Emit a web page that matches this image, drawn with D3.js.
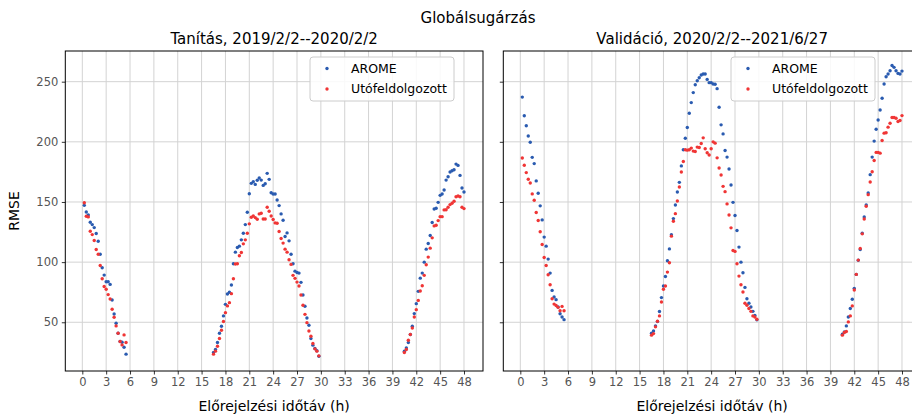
<!DOCTYPE html>
<html><head><meta charset="utf-8">
<script src="https://cdn.jsdelivr.net/npm/d3@7/dist/d3.min.js"></script>
<style>
body{margin:0;background:#fff;overflow:hidden;}
text{font-family:"DejaVu Sans",sans-serif;}
</style>
</head><body>
<svg id="chart" width="912" height="414"></svg>
<script>
// ---------------- DATA ----------------
const seriesNames = ["AROME", "Utófeldolgozott"];
const suptitle = "Globálsugárzás";
const panelTitles = ["Tanítás, 2019/2/2--2020/2/2", "Validáció, 2020/2/2--2021/6/27"];
const xLabel = "Előrejelzési időtáv (h)";
const yLabel = "RMSE";
const xTickValues = [0, 3, 6, 9, 12, 15, 18, 21, 24, 27, 30, 33, 36, 39, 42, 45, 48];
const yTickValues = [50, 100, 150, 200, 250];

const hoursA = [0.25,0.5,0.75,1,1.25,1.5,1.75,2,2.25,2.5,2.75,3,3.25,3.5,3.75,4,4.25,4.5,4.75,5,5.25,5.5];
const hoursB = [16.5,16.75,17,17.25,17.5,17.75,18,18.25,18.5,18.75,19,19.25,19.5,19.75,20,20.25,20.5,20.75,21,21.25,21.5,21.75,22,22.25,22.5,22.75,23,23.25,23.5,23.75,24,24.25,24.5,24.75,25,25.25,25.5,25.75,26,26.25,26.5,26.75,27,27.25,27.5,27.75,28,28.25,28.5,28.75,29,29.25,29.5,29.75];
const hoursC = [40.5,40.75,41,41.25,41.5,41.75,42,42.25,42.5,42.75,43,43.25,43.5,43.75,44,44.25,44.5,44.75,45,45.25,45.5,45.75,46,46.25,46.5,46.75,47,47.25,47.5,47.75,48];

// Training (left) panel
const trainArome = [
  147.2,141.7,139.2,133.2,131.2,128.7,123.8,117.4,106.6,95.3,89.2,83.7,83.7,81.5,68.5,56.9,49.2,40.9,34.0,33.4,29.3,23.5,
  24.9,27.4,33.2,40.9,46.7,55.3,64.9,73.5,74.9,81.0,98.6,108.3,112.2,113.3,118.5,124.0,131.2,141.4,156.9,165.5,166.8,164.6,168.0,169.9,168.2,163.8,165.2,173.8,168.8,157.7,156.6,156.6,151.7,147.0,140.1,134.8,121.3,124.3,117.7,106.6,98.6,92.5,91.4,90.9,83.2,72.7,63.3,53.6,47.5,36.5,31.0,28.2,26.3,21.8,
  26.0,28.7,33.2,39.8,46.7,57.2,65.5,75.7,86.7,90.9,100.0,110.8,115.5,122.1,132.9,144.2,144.8,149.7,155.5,156.6,160.0,168.2,171.0,174.9,176.0,176.8,181.5,180.4,172.1,161.6,158.3
];
const trainPost = [
  149.4,138.1,137.6,125.7,122.9,118.0,110.5,106.6,97.2,86.2,79.8,77.4,73.0,69.3,60.8,54.2,47.0,40.9,34.0,31.2,39.5,33.2,
  23.5,26.0,30.1,36.5,43.4,50.6,58.0,63.6,66.3,73.8,86.2,98.4,98.6,105.3,108.0,115.2,118.5,124.0,131.8,137.3,138.4,137.0,135.6,140.1,140.6,135.9,135.9,145.6,142.3,138.4,135.4,132.6,132.3,125.4,119.6,115.8,110.8,108.3,102.0,98.1,89.0,86.5,83.4,80.1,72.7,64.1,56.6,49.7,42.8,38.4,32.3,27.9,26.0,22.1,
  24.9,27.4,35.1,39.8,45.3,54.4,60.5,68.2,76.0,80.4,89.0,97.8,104.2,111.6,120.2,130.1,130.7,134.5,137.8,137.8,143.4,143.6,145.6,147.8,148.9,150.6,154.4,155.0,154.4,145.6,144.5
];
// Validation (right) panel
const validArome = [
  237.2,221.7,213.4,204.8,199.6,187.1,181.9,167.5,157.3,146.8,135.1,120.8,113.3,102.5,90.9,76.5,71.0,68.8,62.7,57.1,54.4,52.2,
  40.9,42.8,47.0,50.6,58.9,70.5,80.1,88.1,101.1,111.0,122.7,136.2,147.5,158.3,166.3,180.0,193.4,203.0,211.9,223.8,232.6,240.9,247.5,250.8,253.3,255.5,256.4,256.4,251.9,249.2,249.2,248.1,247.8,244.2,228.7,214.1,206.6,192.8,187.3,177.4,164.1,149.7,138.7,126.3,112.5,100.0,91.2,79.0,69.6,65.8,62.7,59.1,55.6,52.0,
  40.1,42.0,47.0,54.4,61.4,69.1,78.2,89.8,101.5,110.5,124.0,137.6,147.5,157.5,172.7,187.3,200.6,210.5,218.2,226.5,236.2,248.1,254.1,256.4,259.1,263.5,261.9,259.1,256.9,256.4,258.8
];
const validPost = [
  186.6,180.5,174.4,168.9,165.8,156.7,151.4,141.2,134.6,125.2,114.7,103.9,97.2,89.5,81.2,69.6,65.1,64.0,62.4,59.6,63.2,59.6,
  39.3,40.6,46.2,50.9,55.3,66.9,77.4,80.1,91.7,99.5,121.6,134.0,140.3,150.8,162.4,174.9,183.7,193.4,193.1,193.4,194.8,192.3,192.0,195.6,195.3,198.6,203.3,194.2,190.9,189.0,194.2,200.0,198.9,186.7,178.2,172.4,163.0,158.6,148.4,139.2,128.5,109.7,108.9,98.6,88.4,81.2,75.2,65.8,64.1,61.4,59.1,55.3,54.4,52.5,
  39.3,41.5,42.3,50.3,55.3,63.6,76.8,89.8,101.7,111.3,123.5,135.9,146.4,156.1,166.6,175.1,184.5,191.2,191.2,190.6,201.1,207.2,207.5,212.2,215.5,220.2,220.2,219.6,216.9,217.7,221.8
];

// ---------------- LAYOUT ----------------
const colors = ["#2a5bb0", "#f03535"];
const hours = hoursA.concat(hoursB, hoursC);
const panels = [
  {title: panelTitles[0], x0: 65.3, x1: 483, series: [trainArome, trainPost], legend: {x: 310, y: 57}, yLabels: true},
  {title: panelTitles[1], x0: 503.3, x1: 921, series: [validArome, validPost], legend: {x: 731, y: 57}, yLabels: false}
];
const plotTop = 51, plotBottom = 371;
const xDomain = [-2.14, 50.39];
const yDomain = [9.5, 275.5];

const svg = d3.select("#chart");
svg.append("rect").attr("width", 912).attr("height", 414).attr("fill", "#fff");

svg.append("text").attr("x", 478).attr("y", 23).attr("text-anchor", "middle")
  .attr("font-size", 15).attr("fill", "#000").text(suptitle);

const y = d3.scaleLinear().domain(yDomain).range([plotBottom, plotTop]);

panels.forEach(p => {
  const x = d3.scaleLinear().domain(xDomain).range([p.x0, p.x1]);
  const g = svg.append("g");

  // grid
  g.append("g").selectAll("line").data(xTickValues).join("line")
    .attr("x1", d => x(d)).attr("x2", d => x(d)).attr("y1", plotTop).attr("y2", plotBottom)
    .attr("stroke", "#d3d3d3").attr("stroke-width", 1);
  g.append("g").selectAll("line").data(yTickValues).join("line")
    .attr("x1", p.x0).attr("x2", p.x1).attr("y1", d => y(d)).attr("y2", d => y(d))
    .attr("stroke", "#d3d3d3").attr("stroke-width", 1);

  // axes
  const xa = g.append("g").attr("transform", `translate(0,${plotBottom})`)
    .call(d3.axisBottom(x).tickValues(xTickValues).tickSize(3.5).tickPadding(3.5));
  xa.select(".domain").remove();
  xa.selectAll("text").attr("font-size", 11.5).attr("fill", "#555").attr("font-family", "DejaVu Sans");
  xa.selectAll("line").attr("stroke", "#333");

  const ya = g.append("g").attr("transform", `translate(${p.x0},0)`)
    .call(d3.axisLeft(y).tickValues(yTickValues).tickSize(3.5).tickPadding(3.5)
      .tickFormat(p.yLabels ? d3.format("d") : () => ""));
  ya.select(".domain").remove();
  ya.selectAll("text").attr("font-size", 11.5).attr("fill", "#555").attr("font-family", "DejaVu Sans");
  ya.selectAll("line").attr("stroke", "#333");

  // frame
  g.append("rect").attr("x", p.x0).attr("y", plotTop).attr("width", p.x1 - p.x0).attr("height", plotBottom - plotTop)
    .attr("fill", "none").attr("stroke", "#000").attr("stroke-width", 1);

  // points
  p.series.forEach((vals, si) => {
    g.append("g").selectAll("circle").data(vals).join("circle")
      .attr("cx", (d, i) => x(hours[i])).attr("cy", d => y(d)).attr("r", 1.7)
      .attr("fill", colors[si]);
  });

  // titles
  const cx = (p.x0 + p.x1) / 2;
  g.append("text").attr("x", cx).attr("y", 44).attr("text-anchor", "middle")
    .attr("font-size", 15).attr("fill", "#000").text(p.title);
  g.append("text").attr("x", cx).attr("y", 411).attr("text-anchor", "middle")
    .attr("font-size", 14).attr("fill", "#000").text(xLabel);

  // legend
  const lg = g.append("g").attr("transform", `translate(${p.legend.x},${p.legend.y})`);
  lg.append("rect").attr("x", 0).attr("y", 0).attr("width", 144).attr("height", 44).attr("rx", 3)
    .attr("fill", "#fff").attr("fill-opacity", 0.85).attr("stroke", "#ccc").attr("stroke-width", 1);
  seriesNames.forEach((n, i) => {
    lg.append("circle").attr("cx", 17).attr("cy", 11.5 + i * 20.5).attr("r", 1.7).attr("fill", colors[i]);
    lg.append("text").attr("x", 41).attr("y", 11.5 + i * 20.5).attr("dy", "0.35em")
      .attr("font-size", 12.5).attr("fill", "#000").text(n);
  });
});

svg.append("text").attr("transform", `translate(19,${(plotTop + plotBottom) / 2}) rotate(-90)`)
  .attr("text-anchor", "middle").attr("font-size", 14).attr("fill", "#000").text(yLabel);
</script>
</body></html>
